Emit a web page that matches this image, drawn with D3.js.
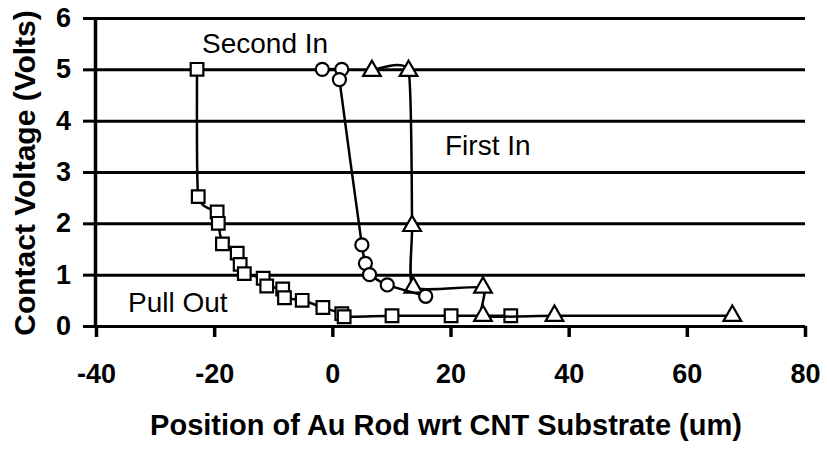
<!DOCTYPE html>
<html>
<head>
<meta charset="utf-8">
<script src="https://cdn.jsdelivr.net/npm/d3@7"></script>
<style>
  body { margin: 0; background: #fff; }
  svg { display: block; }
</style>
</head>
<body>
<svg id="chart" width="827" height="449"></svg>
<script>
// values
var xTicks = [-40, -20, 0, 20, 40, 60, 80];
var yTicks = [0, 1, 2, 3, 4, 5, 6];

// Pull Out (squares)
var pullOutX = [-22.9, -22.7, -19.5, -19.3, -18.6, -16.1, -15.6, -14.9, -11.7, -11.1, -8.4, -8.1, -5.1, -1.6, 1.6, 2.0, 10.1, 20.1, 30.2];
var pullOutY = [5.0, 2.52, 2.22, 2.0, 1.6, 1.42, 1.2, 1.02, 0.93, 0.78, 0.72, 0.55, 0.5, 0.36, 0.24, 0.18, 0.2, 0.2, 0.2];

// Second In (circles)
var secondInX = [-1.7, 1.6, 1.2, 5.0, 5.6, 6.3, 9.3, 15.8];
var secondInY = [5.0, 5.0, 4.8, 1.58, 1.22, 1.0, 0.8, 0.58];

// First In (triangles)
var firstInX = [6.7, 12.9, 13.5, 13.7, 25.5, 25.5, 37.6, 67.7];
var firstInY = [4.97, 4.97, 1.95, 0.75, 0.75, 0.2, 0.2, 0.2];

var plotLeft = 95, plotRight = 805, plotTop = 18, plotBottom = 326;

var svg = d3.select("#chart");

var x = d3.scaleLinear().domain([-40, 80]).range([plotLeft + 1, plotRight]);
var y = d3.scaleLinear().domain([0, 6]).range([plotBottom, plotTop]);

function pts(xs, ys) {
    return xs.map(function(v, i) { return {x: v, y: ys[i]}; });
}
function fmt(d) { return String(d); }

// gridlines
var grid = svg.append("g")
    .attr("transform", "translate(" + plotLeft + ",0)")
    .call(d3.axisLeft(y).tickValues(yTicks).tickSize(-(plotRight - plotLeft)).tickFormat(""));
grid.select(".domain").remove();
grid.selectAll("line").attr("stroke", "#000").attr("stroke-width", 3);

// y axis with labels
var yAxis = svg.append("g")
    .attr("transform", "translate(" + plotLeft + ",0)")
    .call(d3.axisLeft(y).tickValues(yTicks).tickSizeInner(12).tickSizeOuter(0).tickPadding(12).tickFormat(fmt));
yAxis.select(".domain").attr("stroke", "#000").attr("stroke-width", 3.5);
yAxis.selectAll("line").attr("stroke", "#000").attr("stroke-width", 3);
yAxis.selectAll("text")
    .attr("fill", "#000")
    .style("font-family", "'Liberation Sans', Arial, sans-serif")
    .style("font-weight", "bold")
    .style("font-size", "27px");

// x axis
var xAxis = svg.append("g")
    .attr("transform", "translate(0," + plotBottom + ")")
    .call(d3.axisBottom(x).tickValues(xTicks).tickSizeInner(11).tickSizeOuter(0).tickPadding(27).tickFormat(fmt));
xAxis.select(".domain").remove();
xAxis.selectAll("line").attr("stroke", "#000").attr("stroke-width", 3.5);
xAxis.selectAll("text")
    .attr("fill", "#000")
    .style("font-family", "'Liberation Sans', Arial, sans-serif")
    .style("font-weight", "bold")
    .style("font-size", "27px");

var line = d3.line()
    .x(function(d) { return x(d.x); })
    .y(function(d) { return y(d.y); })
    .curve(d3.curveCardinal.tension(0.5));

function drawSeries(data, shape) {
    svg.append("path")
        .datum(data)
        .attr("fill", "none")
        .attr("stroke", "#000")
        .attr("stroke-width", 2.5)
        .attr("d", line);

    var size = shape === d3.symbolTriangle ? 135 : shape === d3.symbolSquare ? 160 : 135;
    svg.append("g").selectAll("path")
        .data(data)
        .enter().append("path")
        .attr("transform", function(d) { return "translate(" + x(d.x) + "," + y(d.y) + ")"; })
        .attr("d", d3.symbol().type(shape).size(size))
        .attr("fill", "#fff")
        .attr("stroke", "#000")
        .attr("stroke-width", 2.2);
}

drawSeries(pts(pullOutX, pullOutY), d3.symbolSquare);
drawSeries(pts(firstInX, firstInY), d3.symbolTriangle);
drawSeries(pts(secondInX, secondInY), d3.symbolCircle);

// series labels
function label(txt, px, py) {
    svg.append("text")
        .attr("x", px)
        .attr("y", py)
        .attr("fill", "#000")
        .style("font-family", "'Liberation Sans', Arial, sans-serif")
        .style("font-size", "28px")
        .text(txt);
}
label("Second In", 202, 53);
label("First In", 445, 155);
label("Pull Out", 128, 312);

// axis titles
svg.append("text")
    .attr("x", 446)
    .attr("y", 435)
    .attr("text-anchor", "middle")
    .attr("fill", "#000")
    .style("font-family", "'Liberation Sans', Arial, sans-serif")
    .style("font-weight", "bold")
    .style("font-size", "29px")
    .text("Position of Au Rod wrt CNT Substrate (um)");

svg.append("text")
    .attr("transform", "translate(35,173) rotate(-90)")
    .attr("text-anchor", "middle")
    .attr("fill", "#000")
    .style("font-family", "'Liberation Sans', Arial, sans-serif")
    .style("font-weight", "bold")
    .style("font-size", "30px")
    .text("Contact Voltage (Volts)");
</script>
</body>
</html>
